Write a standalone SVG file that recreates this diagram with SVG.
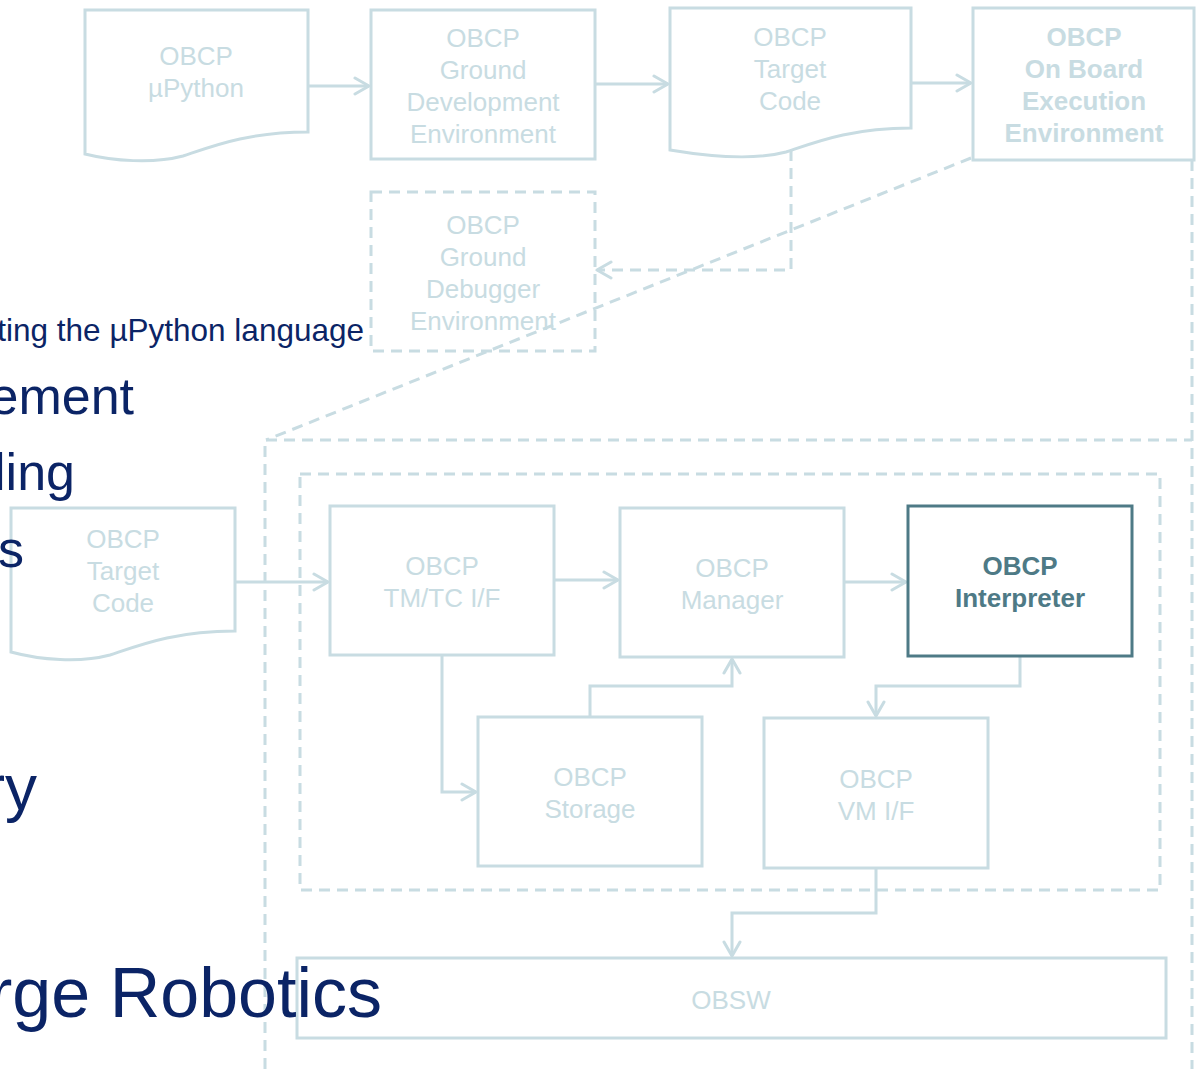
<svg xmlns="http://www.w3.org/2000/svg" width="1196" height="1069" viewBox="0 0 1196 1069">
<style>
.bg{font-family:"Liberation Sans",Arial,sans-serif;fill:#0b2466;text-anchor:end}
.box{fill:none;stroke:#c8dce2;stroke-width:3}
.dash{fill:none;stroke:#c8dce2;stroke-width:3;stroke-dasharray:11 7}
.hl{fill:none;stroke:#4e7a86;stroke-width:3}
.t{font-family:"Liberation Sans",Arial,sans-serif;font-size:26px;fill:#c8dce2;text-anchor:middle}
.b{font-weight:bold}
.d{fill:#4e7a86}
.c{fill:none;stroke:#c8dce2;stroke-width:3}
</style>
<defs>
<marker id="arr" viewBox="0 0 18 20" refX="16" refY="10" markerWidth="18" markerHeight="20" orient="auto" markerUnits="userSpaceOnUse">
<path d="M2,2 L16,10 L2,18" fill="none" stroke="#c8dce2" stroke-width="3" stroke-linecap="round" stroke-linejoin="round"/>
</marker>
</defs>
<rect width="1196" height="1069" fill="#ffffff"/>
<g id="containers">
<path class="dash" d="M971,158 L266,440"/>
<path class="dash" d="M1192,160 V1069"/>
<path class="dash" d="M265,1069 V440 H1192"/>
<rect class="dash" x="300" y="474" width="860" height="416"/>
</g>
<g id="connectors">
<path class="c" d="M308,86 H369" marker-end="url(#arr)"/>
<path class="c" d="M595,84 H668" marker-end="url(#arr)"/>
<path class="c" d="M911,83 H971" marker-end="url(#arr)"/>
<path class="dash" d="M791,150 V270 H597" marker-end="url(#arr)"/>
<path class="c" d="M235,582 H328" marker-end="url(#arr)"/>
<path class="c" d="M554,580 H618" marker-end="url(#arr)"/>
<path class="c" d="M844,582 H906" marker-end="url(#arr)"/>
<path class="c" d="M1020,656 V686 H876 V716" marker-end="url(#arr)"/>
<path class="c" d="M442,655 V792 H476" marker-end="url(#arr)"/>
<path class="c" d="M590,717 V686 H732 V659" marker-end="url(#arr)"/>
<path class="c" d="M876,868 V913 H732 V956" marker-end="url(#arr)"/>
</g>
<g id="n-upython">
<path class="box" d="M85,10 H308 V132 C248,132 213,146 183,156 C153,164 113,161 85,154 Z"/>
<text class="t" x="196" y="65">OBCP</text>
<text class="t" x="196" y="97">µPython</text>
</g>
<g id="n-ground-dev">
<rect class="box" x="371" y="10" width="224" height="149"/>
<text class="t" x="483" y="47">OBCP</text>
<text class="t" x="483" y="79">Ground</text>
<text class="t" x="483" y="111">Development</text>
<text class="t" x="483" y="143">Environment</text>
</g>
<g id="n-target-code-top">
<path class="box" d="M670,8 H911 V128 C851,128 816,142 786,152 C756,160 712,157 670,150 Z"/>
<text class="t" x="790" y="46">OBCP</text>
<text class="t" x="790" y="78">Target</text>
<text class="t" x="790" y="110">Code</text>
</g>
<g id="n-onboard">
<rect class="box" x="973" y="8" width="221" height="152"/>
<text class="t b" x="1084" y="46">OBCP</text>
<text class="t b" x="1084" y="78">On Board</text>
<text class="t b" x="1084" y="110">Execution</text>
<text class="t b" x="1084" y="142">Environment</text>
</g>
<g id="n-debugger">
<rect class="dash" x="371" y="192" width="224" height="159"/>
<text class="t" x="483" y="234">OBCP</text>
<text class="t" x="483" y="266">Ground</text>
<text class="t" x="483" y="298">Debugger</text>
<text class="t" x="483" y="330">Environment</text>
</g>
<g id="n-target-code-low">
<path class="box" d="M11,508 H235 V631 C175,631 140,645 110,655 C80,663 40,660 11,652 Z"/>
<text class="t" x="123" y="548">OBCP</text>
<text class="t" x="123" y="580">Target</text>
<text class="t" x="123" y="612">Code</text>
</g>
<g id="n-tmtc">
<rect class="box" x="330" y="506" width="224" height="149"/>
<text class="t" x="442" y="575">OBCP</text>
<text class="t" x="442" y="607">TM/TC I/F</text>
</g>
<g id="n-manager">
<rect class="box" x="620" y="508" width="224" height="149"/>
<text class="t" x="732" y="577">OBCP</text>
<text class="t" x="732" y="609">Manager</text>
</g>
<g id="n-interpreter">
<rect class="hl" x="908" y="506" width="224" height="150"/>
<text class="t b d" x="1020" y="575">OBCP</text>
<text class="t b d" x="1020" y="607">Interpreter</text>
</g>
<g id="n-storage">
<rect class="box" x="478" y="717" width="224" height="149"/>
<text class="t" x="590" y="786">OBCP</text>
<text class="t" x="590" y="818">Storage</text>
</g>
<g id="n-vmif">
<rect class="box" x="764" y="718" width="224" height="150"/>
<text class="t" x="876" y="788">OBCP</text>
<text class="t" x="876" y="820">VM I/F</text>
</g>
<g id="n-obsw">
<rect class="box" x="297" y="958" width="869" height="80"/>
<text class="t" x="731" y="1009">OBSW</text>
</g>
<g id="background-text">
<text class="bg" x="364" y="341" font-size="31.5">ting the µPython language</text>
<text class="bg" x="134" y="414" font-size="52">ement</text>
<text class="bg" x="75" y="490" font-size="52">ling</text>
<text class="bg" x="24" y="567" font-size="52">s</text>
<text class="bg" x="37" y="810" font-size="64">ry</text>
<text class="bg" x="382" y="1017" font-size="70">rge Robotics</text>
</g>
</svg>
